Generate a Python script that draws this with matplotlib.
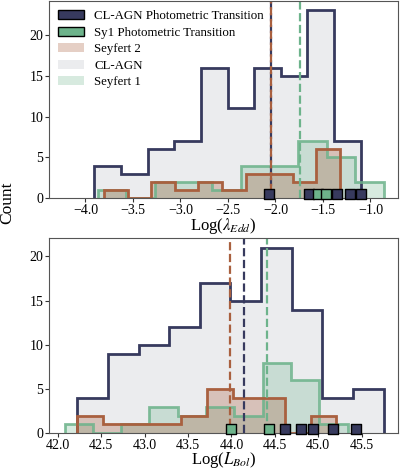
import numpy as np
import matplotlib
matplotlib.use("Agg")
import matplotlib.pyplot as plt
from matplotlib.patches import Patch

plt.rcParams["font.family"] = ["Liberation Serif", "DejaVu Serif"]
plt.rcParams["mathtext.fontset"] = "stix"

NAVY = "#373a5e"
GREEN = "#6db38b"
BROWN = "#a9603f"
GREY = "#8a8f9c"

# ---- Eddington ratio panel (top) ----
edd_cl_counts = [4, 3, 6, 7, 16, 11, 16, 15, 23, 7]
edd_cl_range = (-3.907, -1.102)
edd_sy1_counts = [1, 0, 2, 2, 1, 4, 4, 7, 5, 2]
edd_sy1_range = (-3.872, -0.860)
edd_sy2_counts = [1, 0, 2, 1, 2, 1, 3, 3, 2, 6]
edd_sy2_range = (-3.802, -1.323)
edd_medians = {"cl": -2.05, "sy1": -1.74, "sy2": -2.05}
edd_cl_phot = [-2.067, -1.649, -1.351, -1.218, -1.102]
edd_sy1_phot = [-1.551, -1.463]

# ---- Bolometric luminosity panel (bottom) ----
bol_cl_counts = [4, 9, 10, 12, 17, 15, 21, 14, 4, 5]
bol_cl_range = (42.223, 45.755)
bol_sy1_counts = [1, 0, 1, 3, 2, 3, 2, 8, 6, 1]
bol_sy1_range = (42.077, 45.338)
bol_sy2_counts = [2, 1, 1, 1, 2, 5, 4, 4, 0, 2]
bol_sy2_range = (42.215, 45.211)
bol_medians = {"cl": 44.14, "sy1": 44.41, "sy2": 43.98}
bol_cl_phot = [44.62, 44.80, 44.94, 45.17, 45.44]
bol_sy1_phot = [44.00, 44.43]


def edges(rng, n):
    return np.linspace(rng[0], rng[1], n + 1)


def draw_panel(ax, cl, cl_rng, sy1, sy1_rng, sy2, sy2_rng, med, cl_phot, sy1_phot):
    e_cl = edges(cl_rng, len(cl))
    e_sy1 = edges(sy1_rng, len(sy1))
    e_sy2 = edges(sy2_rng, len(sy2))

    ax.stairs(cl, e_cl, fill=True, color=GREY, alpha=0.17, lw=0)
    ax.stairs(sy1, e_sy1, fill=True, color=GREEN, alpha=0.27, lw=0)
    ax.stairs(sy2, e_sy2, fill=True, color=BROWN, alpha=0.3, lw=0)

    ax.stairs(cl, e_cl, color=NAVY, lw=2.0)
    ax.stairs(sy1, e_sy1, color=GREEN, lw=2.0, alpha=0.85)
    ax.stairs(sy2, e_sy2, color=BROWN, lw=2.0)

    ax.axvline(med["cl"], color=NAVY, lw=1.6, ls=(0, (3.7, 1.6)))
    ax.axvline(med["sy1"], color=GREEN, lw=1.6, ls=(0, (3.7, 1.6)))
    ax.axvline(med["sy2"], color=BROWN, lw=1.6, ls=(2.6, (3.7, 1.6)))

    ax.scatter(cl_phot, np.full(len(cl_phot), 0.5), marker="s", s=48,
               color=NAVY, edgecolor="black", lw=1, zorder=5, clip_on=False)
    ax.scatter(sy1_phot, np.full(len(sy1_phot), 0.5), marker="s", s=48,
               color=GREEN, edgecolor="black", lw=1, zorder=5, clip_on=False)

    for sp in ax.spines.values():
        sp.set_color("#555555")
    ax.tick_params(labelsize=10, colors="#333333", labelcolor="black",
                   length=3, pad=1)


fig = plt.figure(figsize=(4.0, 4.71), dpi=100)
ax1 = fig.add_axes([0.1225, 0.579, 0.8725, 0.419])
ax2 = fig.add_axes([0.1225, 0.080, 0.8725, 0.414])

draw_panel(ax1, edd_cl_counts, edd_cl_range, edd_sy1_counts, edd_sy1_range,
           edd_sy2_counts, edd_sy2_range, edd_medians, edd_cl_phot, edd_sy1_phot)
draw_panel(ax2, bol_cl_counts, bol_cl_range, bol_sy1_counts, bol_sy1_range,
           bol_sy2_counts, bol_sy2_range, bol_medians, bol_cl_phot, bol_sy1_phot)

ax1.set_xlim(-4.384, -0.71)
ax1.set_ylim(0, 24.15)
ax1.set_xticks([-4.0, -3.5, -3.0, -2.5, -2.0, -1.5, -1.0])
ax1.set_yticks([0, 5, 10, 15, 20])
ax1.set_xlabel(r"Log($\lambda_{Edd}$)", fontsize=12)
ax1.xaxis.set_label_coords(0.5, -0.09)

ax2.set_xlim(41.897, 45.92)
ax2.set_ylim(0, 22.05)
ax2.set_xticks([42.0, 42.5, 43.0, 43.5, 44.0, 44.5, 45.0, 45.5])
ax2.set_yticks([0, 5, 10, 15, 20])
ax2.set_xlabel(r"Log($L_{Bol}$)", fontsize=12)
ax2.xaxis.set_label_coords(0.5, -0.088)

fig.text(0.018, 0.57, "Count", rotation=90, fontsize=12.5, ha="center", va="center")

handles = [
    Patch(facecolor=NAVY, edgecolor="black", label="CL-AGN Photometric Transition"),
    Patch(facecolor=GREEN, edgecolor="black", label="Sy1 Photometric Transition"),
    Patch(facecolor=BROWN, alpha=0.3, lw=0, label="Seyfert 2"),
    Patch(facecolor=GREY, alpha=0.17, lw=0, label="CL-AGN"),
    Patch(facecolor=GREEN, alpha=0.27, lw=0, label="Seyfert 1"),
]
ax1.legend(handles=handles, loc="upper left", fontsize=9.3, frameon=False,
           labelspacing=0.35, borderaxespad=0.3)

fig.savefig("out.png", dpi=100)
